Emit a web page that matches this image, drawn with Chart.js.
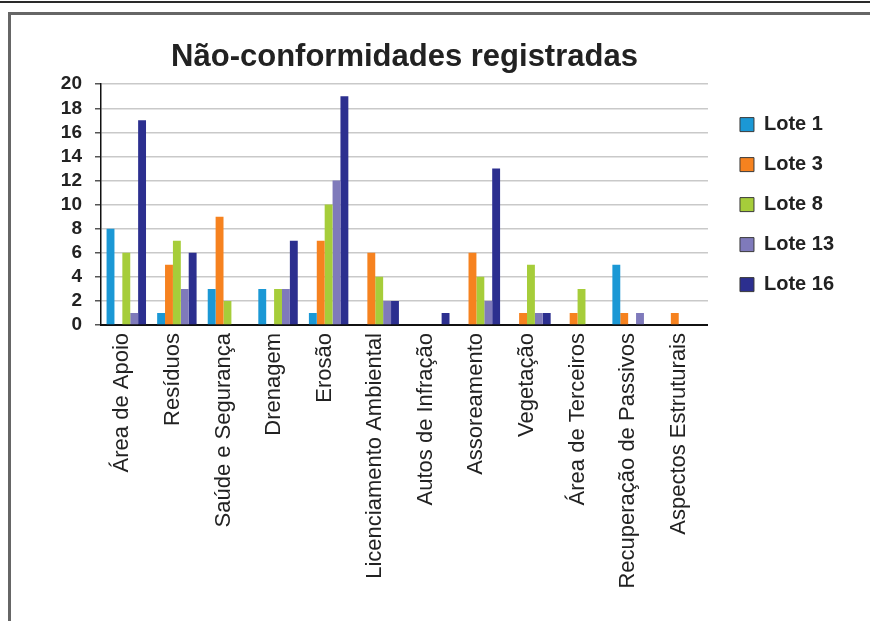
<!DOCTYPE html>
<html>
<head>
<meta charset="utf-8">
<script src="https://cdn.jsdelivr.net/npm/chart.js@4.4.1/dist/chart.umd.min.js"></script>
<style>
  html, body { margin: 0; padding: 0; background: #fff; }
  #wrap { position: relative; width: 870px; height: 621px; overflow: hidden; }
  #topline { position: absolute; left: 0; top: 1px; width: 870px; height: 2px; background: #2a2a2a; }
  #frame { position: absolute; left: 8px; top: 12px; width: 900px; height: 700px;
           border-top: 3px solid #666; border-left: 3px solid #666; }
  canvas { position: absolute; left: 0; top: 0; }
</style>
</head>
<body>
<div id="wrap">
  <div id="topline"></div>
  <div id="frame"></div>
  <canvas id="nc_chart" width="870" height="621"></canvas>
</div>
<script>
const categorias = ['Área de Apoio', 'Resíduos', 'Saúde e Segurança', 'Drenagem', 'Erosão',
  'Licenciamento Ambiental', 'Autos de Infração', 'Assoreamento', 'Vegetação',
  'Área de Terceiros', 'Recuperação de Passivos', 'Aspectos Estruturais'];

const lote1  = [8, 1, 3, 3, 1, 0, 0, 0, 0, 0, 5, 0];
const lote3  = [0, 5, 9, 0, 7, 6, 0, 6, 1, 1, 1, 1];
const lote8  = [6, 7, 2, 3, 10, 4, 0, 4, 5, 3, 0, 0];
const lote13 = [1, 3, 0, 3, 12, 2, 0, 2, 1, 0, 1, 0];
const lote16 = [17, 6, 0, 7, 19, 2, 1, 13, 1, 0, 0, 0];

const yTicks = [0, 2, 4, 6, 8, 10, 12, 14, 16, 18, 20];

const fontFam = '"Liberation Sans", Arial, Helvetica, sans-serif';

// nudge the legend a bit to the right of the plot
const legendShift = {
  id: 'legendShift',
  afterLayout(chart) {
    if (chart.legend) {
      chart.legend.left += 12;
      chart.legend.right += 12;
    }
  }
};

const data = {
  labels: categorias,
  datasets: [
    { label: 'Lote 1',  data: lote1,  backgroundColor: '#1b98d5' },
    { label: 'Lote 3',  data: lote3,  backgroundColor: '#f6821f' },
    { label: 'Lote 8',  data: lote8,  backgroundColor: '#a6cd3a' },
    { label: 'Lote 13', data: lote13, backgroundColor: '#7f7abb' },
    { label: 'Lote 16', data: lote16, backgroundColor: '#2c2f8f' }
  ]
};

const config_bar = {
  type: 'bar',
  data: data,
  plugins: [legendShift],
  options: {
    responsive: false,
    animation: false,
    devicePixelRatio: 1,
    categoryPercentage: 0.78,
    barPercentage: 1.0,
    layout: { padding: { top: 39, left: 0, right: 38, bottom: 0 } },
    plugins: {
      title: {
        display: true,
        fullSize: false,
        text: 'Não-conformidades registradas',
        color: '#222',
        font: { family: fontFam, size: 31, weight: 'bold', lineHeight: 1.2 },
        padding: { top: 0, bottom: 8 }
      },
      legend: {
        position: 'right',
        fullSize: false,
        align: 'center',
        labels: {
          color: '#222',
          boxWidth: 14,
          boxHeight: 14,
          padding: 20,
          font: { family: fontFam, size: 20, weight: 'bold' },
          generateLabels(chart) {
            const items = Chart.defaults.plugins.legend.labels.generateLabels(chart);
            items.forEach(it => { it.strokeStyle = '#3a3a3a'; it.lineWidth = 1; });
            return items;
          }
        }
      },
      tooltip: { enabled: false }
    },
    scales: {
      x: {
        grid: { display: false, drawTicks: false },
        border: { display: true, color: '#111', width: 2 },
        ticks: {
          autoSkip: false,
          minRotation: 90,
          maxRotation: 90,
          padding: 8,
          labelOffset: -4,
          color: '#222',
          font: { family: fontFam, size: 22 }
        },
        afterFit(scale) { scale.height = 296; }
      },
      y: {
        min: 0,
        max: 20,
        afterBuildTicks(scale) { scale.ticks = yTicks.map(v => ({ value: v })); },
        grid: { color: '#c9c9c9', lineWidth: 1.5, tickLength: 6, tickColor: '#555' },
        border: { display: true, color: '#111', width: 1.5 },
        ticks: {
          autoSkip: false,
          padding: 13,
          color: '#222',
          font: { family: fontFam, size: 19, weight: 'bold', lineHeight: 1 }
        },
        afterFit(scale) { scale.width = 101; }
      }
    }
  }
};

let myChart = new Chart(document.getElementById('nc_chart'), config_bar);
</script>
</body>
</html>
